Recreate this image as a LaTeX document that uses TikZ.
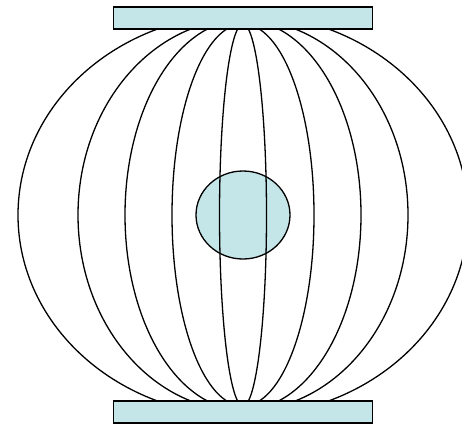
\documentclass[tikz,border=0pt]{standalone}
\usetikzlibrary{shapes.geometric}
\definecolor{plate}{RGB}{197,230,232}
\begin{document}
\begin{tikzpicture}[x=1pt,y=-1pt,
  platebox/.style={draw=black,fill=plate,line width=1.3pt,minimum width=259pt,minimum height=22pt,inner sep=0pt,outer sep=0pt},
  core/.style={ellipse,draw=black,fill=plate,line width=1.3pt,minimum width=94pt,minimum height=88pt,inner sep=0pt},
  field/.style={draw=black,line width=1.3pt}]
\useasboundingbox (0,0) rectangle (462,424);
\node[core] (c) at (243,215) {};
\begin{scope}
\clip (0,0) rectangle (462,424);
\draw[field] (243,215) ellipse [x radius=225pt, y radius=201pt];
\draw[field] (243,215) ellipse [x radius=165pt, y radius=196pt];
\draw[field] (243,215) ellipse [x radius=118pt, y radius=195pt];
\draw[field] (243,215) ellipse [x radius=71pt, y radius=191pt];
\draw[field] (243,215) ellipse [x radius=23.5pt, y radius=191pt];
\end{scope}
\node[platebox] (top) at (243,18) {};
\node[platebox] (bot) at (243,412) {};
\end{tikzpicture}
\end{document}
